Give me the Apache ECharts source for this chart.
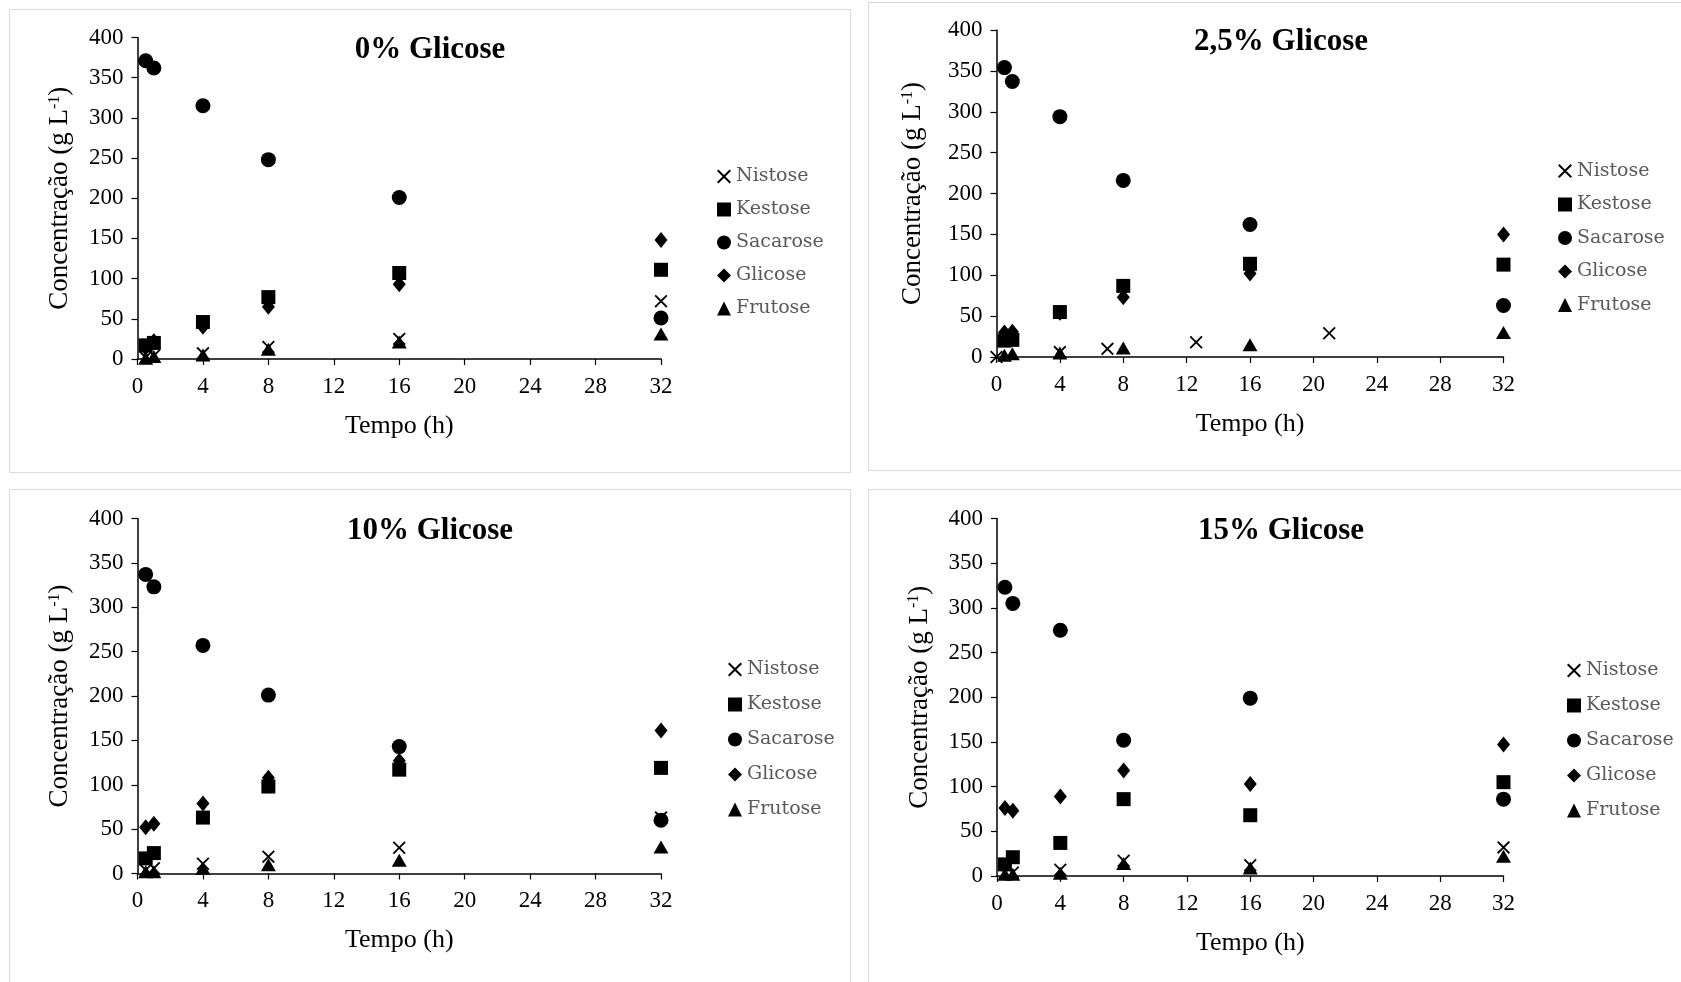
<!DOCTYPE html>
<html>
<head>
<meta charset="utf-8">
<script src="https://cdn.jsdelivr.net/npm/echarts@6/dist/echarts.min.js"></script>
<style>
  html, body { margin: 0; padding: 0; background: #fff; }
  #chart { width: 1681px; height: 982px; }
</style>
</head>
<body>
<div id="chart"></div>
<script>
// Sampling times (h)
const horas = [0.5, 1, 4, 8, 16, 32];
// Nistose in the 2,5% run was recorded at its own times
const horasNistose25 = [0, 4, 7, 12.6, 21];

const substancias = ['Nistose', 'Kestose', 'Sacarose', 'Glicose', 'Frutose'];
const titulos = ['0% Glicose', '2,5% Glicose', '10% Glicose', '15% Glicose'];

// Concentrations (g L-1), 0% glucose
const nistose0  = [2, 4, 7, 15, 25, 72];
const kestose0  = [17, 20, 46, 77, 107, 111];
const sacarose0 = [371, 362, 315, 248, 201, 51];
const glicose0  = [14, 22, 40, 65, 93, 148];
const frutose0  = [1, 3, 5, 12, 21, 31];

// 2,5% glucose
const nistose25  = [0, 6, 10, 18, 29];
const kestose25  = [20, 21, 55, 87, 114, 113];
const sacarose25 = [354, 337, 294, 216, 162, 63];
const glicose25  = [30, 31, 54, 73, 102, 150];
const frutose25  = [2, 4, 5, 11, 15, 30];

// 10% glucose
const nistose10  = [4, 6, 11, 19, 29, 63];
const kestose10  = [17, 23, 63, 98, 117, 119];
const sacarose10 = [337, 323, 257, 201, 143, 60];
const glicose10  = [52, 56, 79, 108, 127, 161];
const frutose10  = [2, 2, 6, 10, 15, 30];

// 15% glucose
const nistose15  = [4, 4, 7, 17, 12, 32];
const kestose15  = [13, 21, 37, 86, 68, 105];
const sacarose15 = [323, 305, 275, 152, 199, 86];
const glicose15  = [76, 73, 89, 118, 103, 147];
const frutose15  = [2, 2, 3, 14, 9, 22];

// Axis ranges
const xMin = 0, xMax = 32, xStep = 4;
const yMin = 0, yMax = 400, yStep = 50;

const paineis = [
  { x: { Nistose: horas }, v: { Nistose: nistose0, Kestose: kestose0, Sacarose: sacarose0, Glicose: glicose0, Frutose: frutose0 } },
  { x: { Nistose: horasNistose25 }, v: { Nistose: nistose25, Kestose: kestose25, Sacarose: sacarose25, Glicose: glicose25, Frutose: frutose25 } },
  { x: { Nistose: horas }, v: { Nistose: nistose10, Kestose: kestose10, Sacarose: sacarose10, Glicose: glicose10, Frutose: frutose10 } },
  { x: { Nistose: horas }, v: { Nistose: nistose15, Kestose: kestose15, Sacarose: sacarose15, Glicose: glicose15, Frutose: frutose15 } }
];

// Layout of the four panels
const layout = [
  { grid: { left: 137.5, top: 37.5, width: 523.5, height: 321.5 }, titulo: [430, 50], legenda: { left: 712, top: 162, gap: 14 }, borda: [9.5, 9.5, 841, 463], nameGap: 64 },
  { grid: { left: 996.5, top: 30, width: 507, height: 327 }, titulo: [1281, 42], legenda: { left: 1553, top: 156.5, gap: 14.5 }, borda: [868.5, 2.5, 900, 468], nameGap: 70 },
  { grid: { left: 137.5, top: 518.5, width: 523.5, height: 355 }, titulo: [430, 531], legenda: { left: 723, top: 655, gap: 16 }, borda: [9.5, 489.5, 841, 600], nameGap: 64 },
  { grid: { left: 997, top: 518.5, width: 506.5, height: 357.5 }, titulo: [1281, 531], legenda: { left: 1562, top: 656, gap: 16 }, borda: [868.5, 489.5, 900, 600], nameGap: 64 }
];

const SERIF = '"Liberation Serif", "Times New Roman", serif';

const simbolo = {
  Nistose: 'path://M0,1L1,0L5,4L9,0L10,1L6,5L10,9L9,10L5,6L1,10L0,9L4,5Z',
  Kestose: 'rect',
  Sacarose: 'circle',
  Glicose: 'diamond',
  Frutose: 'triangle'
};
const tamanho = {
  Nistose: 13,
  Kestose: 14,
  Sacarose: 15,
  Glicose: [13, 16],
  Frutose: [15, 13]
};

const grids = [], xAxes = [], yAxes = [], legends = [], series = [], graphics = [];

layout.forEach((L, p) => {
  grids.push(Object.assign({ containLabel: false }, L.grid));

  xAxes.push({
    gridIndex: p, type: 'value', min: xMin, max: xMax, interval: xStep,
    name: 'Tempo (h)', nameLocation: 'middle', nameGap: 54,
    nameTextStyle: { fontFamily: SERIF, fontSize: 26, color: '#000' },
    axisLine: { onZero: false, lineStyle: { color: '#000', width: 1.5 } },
    axisTick: { show: true, inside: false, length: 6, lineStyle: { color: '#000', width: 1.2 } },
    axisLabel: { fontFamily: SERIF, fontSize: 23, color: '#000', margin: 16 },
    splitLine: { show: false }
  });

  yAxes.push({
    gridIndex: p, type: 'value', min: yMin, max: yMax, interval: yStep,
    name: '{a|Concentração (g L}{s|-1}{a|)}', nameLocation: 'middle', nameGap: L.nameGap,
    nameTextStyle: {
      rich: {
        a: { fontFamily: SERIF, fontSize: 27, color: '#000' },
        s: { fontFamily: SERIF, fontSize: 16, color: '#000', verticalAlign: 'top' }
      }
    },
    axisLine: { show: true, lineStyle: { color: '#000', width: 1.5 } },
    axisTick: { show: true, inside: false, length: 6, lineStyle: { color: '#000', width: 1.2 } },
    axisLabel: { fontFamily: SERIF, fontSize: 23, color: '#000', margin: 14 },
    splitLine: { show: false }
  });

  legends.push({
    orient: 'vertical', left: L.legenda.left, top: L.legenda.top,
    itemGap: L.legenda.gap, itemWidth: 14, itemHeight: 14, selectedMode: false,
    textStyle: { fontFamily: '"DejaVu Serif", serif', fontSize: 19, color: '#595959' },
    data: substancias
  });

  substancias.forEach(s => {
    const xs = paineis[p].x[s] || horas;
    const ys = paineis[p].v[s];
    series.push({
      type: 'scatter', name: s, xAxisIndex: p, yAxisIndex: p,
      symbol: simbolo[s], symbolSize: tamanho[s],
      itemStyle: { color: '#000', opacity: 1 },
      emphasis: { disabled: true },
      data: ys.map((y, i) => [xs[i], y])
    });
  });

  const b = L.borda;
  graphics.push({
    type: 'rect', silent: true, z: -1,
    shape: { x: b[0], y: b[1], width: b[2], height: b[3] },
    style: { fill: 'none', stroke: '#d9d9d9', lineWidth: 1 }
  });
  graphics.push({
    type: 'text', silent: true,
    x: L.titulo[0], y: L.titulo[1],
    style: {
      text: titulos[p], align: 'center', verticalAlign: 'middle',
      font: 'bold 31px ' + SERIF, fill: '#000'
    }
  });
});

const chart = echarts.init(document.getElementById('chart'), null, { renderer: 'canvas' });
chart.setOption({
  backgroundColor: '#fff',
  animation: false,
  grid: grids,
  xAxis: xAxes,
  yAxis: yAxes,
  legend: legends,
  series: series,
  graphic: graphics
});
</script>
</body>
</html>
